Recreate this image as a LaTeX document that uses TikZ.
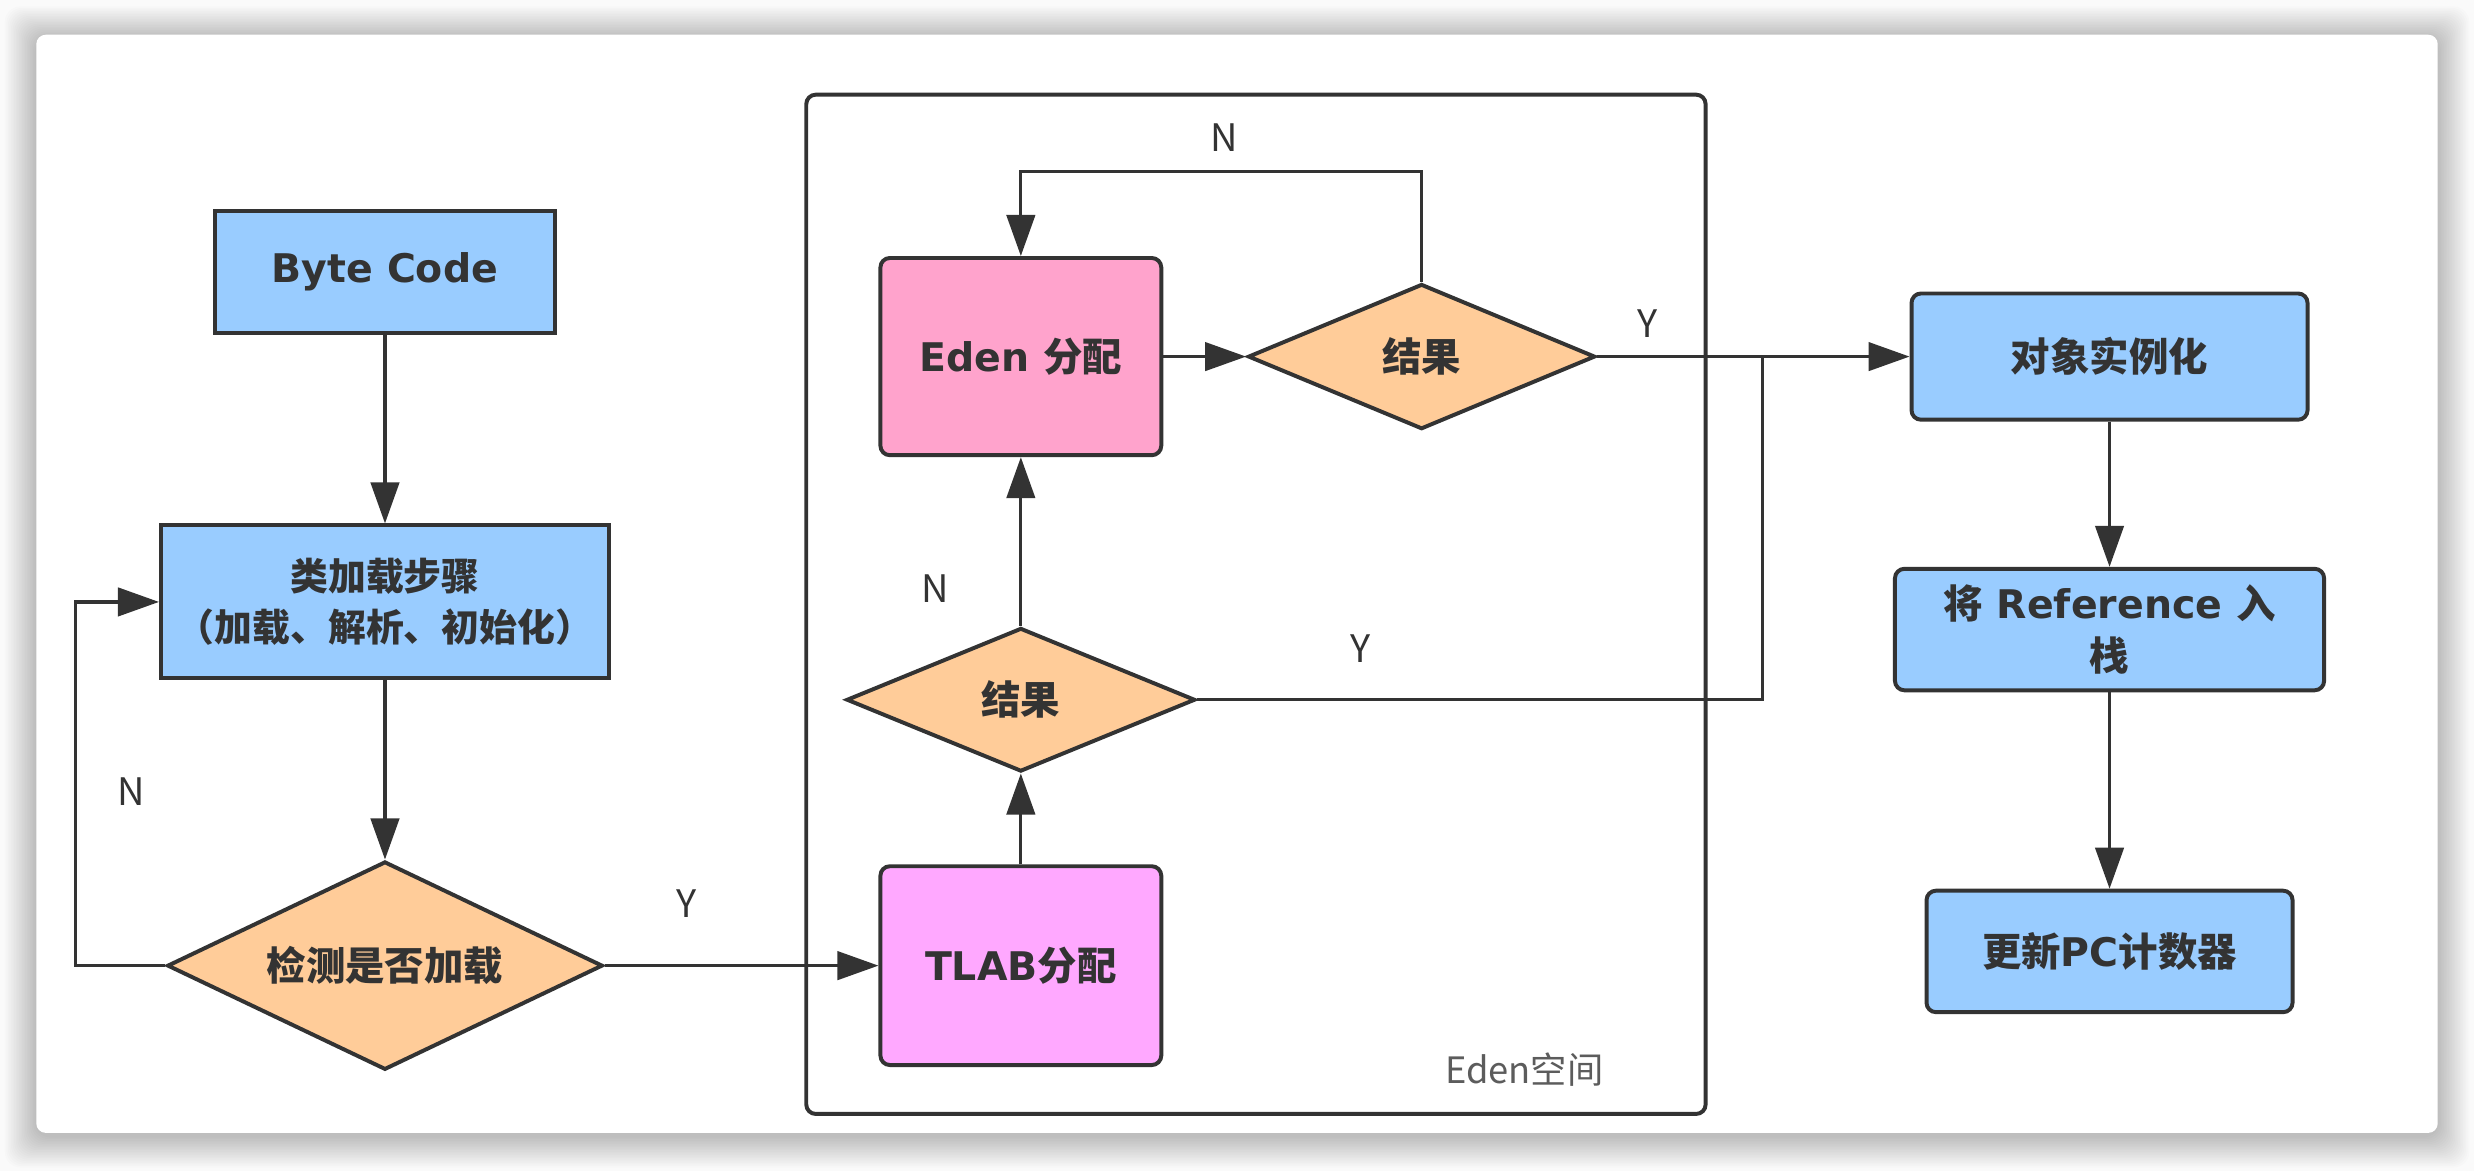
\documentclass[tikz,border=0pt]{standalone}
\usepackage{fontspec}
\newfontfamily\cjk{Noto Sans CJK SC}
\newfontfamily\lat{DejaVu Sans}
\usetikzlibrary{shapes.geometric,arrows.meta}
\definecolor{boxblue}{RGB}{153,204,255}
\definecolor{edenpink}{RGB}{255,163,204}
\definecolor{tlabpink}{RGB}{255,168,255}
\definecolor{decfill}{RGB}{255,204,153}
\definecolor{ink}{RGB}{51,51,51}
\definecolor{bgc}{RGB}{250,250,250}
\newcommand\latb[1]{{\lat\bfseries #1}}
\newcommand\cjkb[1]{{\cjk\bfseries #1}}
\begin{document}
\begin{tikzpicture}[x=1pt,y=-1pt,
  proc/.style={draw=ink,line width=2.5pt,inner sep=0pt,align=center,text=ink,
    font=\fontsize{25}{33}\selectfont},
  sq/.style={proc,fill=boxblue},
  rnd/.style={proc,rounded corners=6pt},
  dec/.style={proc,diamond,fill=decfill},
  conn/.style={draw=ink,line width=2pt,-{Triangle[length=26pt,width=18pt]}},
  plainline/.style={draw=ink,line width=2pt},
  lab/.style={text=ink,font=\cjk\fontsize{24}{24}\selectfont},
]
\useasboundingbox (0,0) rectangle (1568,742);
\fill[bgc] (0,0) rectangle (1568,742);
\foreach \i in {1,...,20}
  \fill[black,opacity=0.01,rounded corners=10pt] (23-\i,22-\i+2) rectangle (1545+\i,718+\i+2);
\fill[white,rounded corners=6pt] (23,22) rectangle (1545,718);

% Eden space container
\node[draw=ink,line width=2.5pt,rounded corners=6pt,minimum width=570pt,minimum height=646pt,inner sep=0pt] (space) at (796,383) {};
\node[text=ink!80,font=\cjk\fontsize{23}{23}\selectfont] (spacelab) at (966,678) {Eden空间};

% left column
\node[sq,minimum width=216pt,minimum height=77pt] (bc) at (244,172.5) {\latb{Byte Code}};
\node[sq,minimum width=284pt,minimum height=97pt,font=\fontsize{24}{32}\selectfont] (cl) at (244,381.5)
  {\cjkb{类加载步骤}\\\cjkb{（加载、解析、初始化）}};
\node[dec,aspect=2.09,minimum width=276pt,minimum height=132pt] (chk) at (244,612) {\cjkb{检测是否加载}};

% Eden column
\node[rnd,fill=tlabpink,minimum width=178pt,minimum height=126pt] (tlab) at (647,612) {\latb{TLAB}\cjkb{分配}};
\node[dec,aspect=2.4,minimum width=221pt,minimum height=91pt] (r2) at (647,443.5) {\cjkb{结果}};
\node[rnd,fill=edenpink,minimum width=178pt,minimum height=125pt] (eden) at (647,226) {\latb{Eden }\cjkb{分配}};
\node[dec,aspect=2.4,minimum width=220pt,minimum height=92pt] (r1) at (901,226) {\cjkb{结果}};

% right column
\node[rnd,fill=boxblue,minimum width=251pt,minimum height=80pt] (obj) at (1337,226) {\cjkb{对象实例化}};
\node[rnd,fill=boxblue,minimum width=272pt,minimum height=77pt] (ref) at (1337,399) {\cjkb{将}\latb{ Reference }\cjkb{入}\\\cjkb{栈}};
\node[rnd,fill=boxblue,minimum width=232pt,minimum height=77pt] (pc) at (1337,603) {\cjkb{更新}\latb{PC}\cjkb{计数器}};

\coordinate (join) at (1117,226);

% connectors
\draw[conn] (bc) -- (cl);
\draw[conn] (cl) -- (chk);
\draw[conn] (chk.west) -- ++(-57,0) |- (cl.west);
\draw[conn] (chk.east) -- (tlab.west);
\draw[conn] (tlab) -- (r2);
\draw[conn] (r2) -- (eden);
\draw[conn] (eden) -- (r1);
\draw[conn] (r1.north) -- ++(0,-70) -| (eden.north);
\draw[conn] (r1.east) -- (obj.west);
\draw[plainline] (r2.east) -| (join);
\draw[conn] (obj) -- (ref);
\draw[conn] (ref) -- (pc);

% labels
\node[lab] (n1) at (776,87) {N};
\node[lab] (y1) at (1044,205) {Y};
\node[lab] (n2) at (593,373) {N};
\node[lab] (y2) at (862,411) {Y};
\node[lab] (n3) at (83,502) {N};
\node[lab] (y3) at (435,573) {Y};
\end{tikzpicture}
\end{document}
